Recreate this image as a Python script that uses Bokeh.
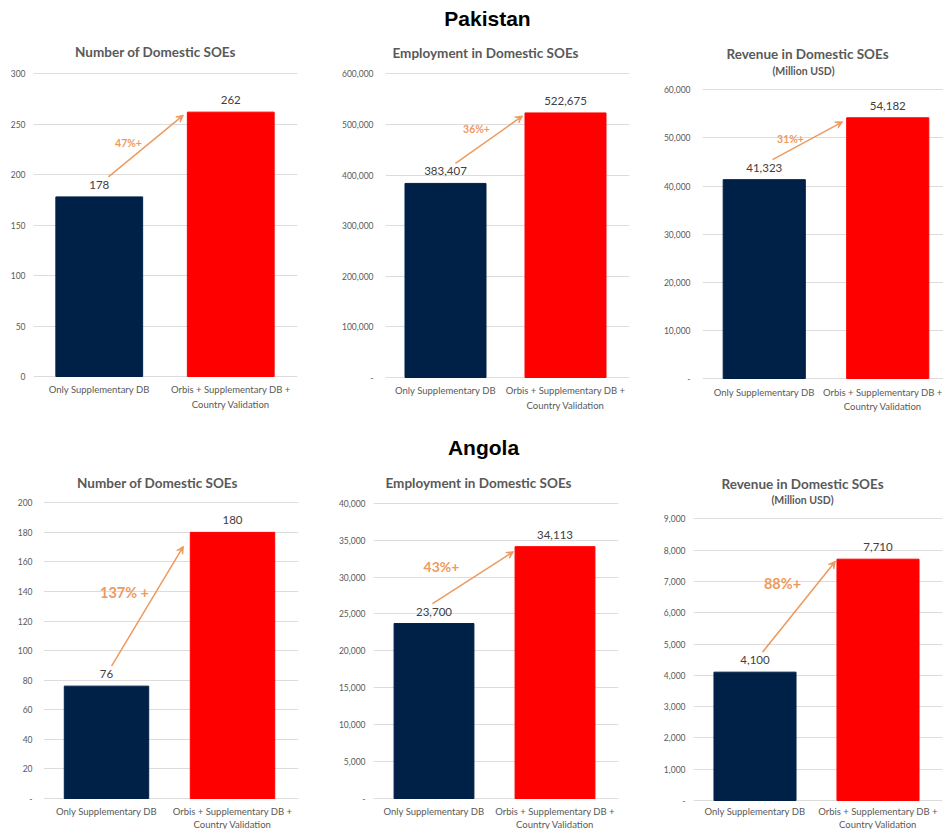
from bokeh.plotting import figure
from bokeh.layouts import column, row
from bokeh.models import Range1d, FixedTicker, NumeralTickFormatter, Arrow, VeeHead, ColumnDataSource
from bokeh.core.properties import value
from bokeh.embed import file_html
from bokeh.resources import INLINE

# ---- data -------------------------------------------------------------
categories = ["Only Supplementary DB", "Orbis + Supplementary DB +\nCountry Validation"]
countries = ["Pakistan", "Angola"]
chart_titles = ["Number of Domestic SOEs", "Employment in Domestic SOEs", "Revenue in Domestic SOEs"]
chart_subtitles = ["", "", "(Million USD)"]

pakistan_number = [178, 262]
pakistan_employment = [383407, 522675]
pakistan_revenue = [41323, 54182]
angola_number = [76, 180]
angola_employment = [23700, 34113]
angola_revenue = [4100, 7710]

pakistan_growth = ["47%+", "36%+", "31%+"]
angola_growth = ["137% +", "43%+", "88%+"]

pakistan_axis_max = [300, 600000, 60000]
pakistan_axis_step = [50, 100000, 10000]
angola_axis_max = [200, 40000, 9000]
angola_axis_step = [20, 5000, 1000]

# ---- styling ----------------------------------------------------------
NAVY = "#002147"
RED = "#FF0000"
ORANGE = "#EE9A5E"
GRID = "#DCDCDC"
TITLE_GREY = "#595959"
LABEL_GREY = "#404040"
FONT = "Lato"

# per-panel geometry in pixels, measured from each figure's top-left corner
panel_geo = [
    dict(w=310, h=420, fl=33, fr=297, base=376, top=73.3, cw=131.5, bw=0.66, ls=8,
         title_xy=(155, 51), sub_xy=None, country_xy=(0, 0), ax=(0.07, 0.64), drop=3,
         pct_xy=(128, 142), pct_size="10.5px", cat_off=7, cat_lh=1.4, cat_shift=0),
    dict(w=320, h=420, fl=75, fr=319, base=377, top=73.3, cw=120, bw=0.675, ls=12,
         title_xy=(175, 52), sub_xy=None, country_xy=(177, 18), ax=(0.083, 0.642), drop=3,
         pct_xy=(166, 128), pct_size="10.5px", cat_off=7, cat_lh=1.4, cat_shift=0),
    dict(w=313, h=420, fl=72, fr=313, base=378, top=89.3, cw=123.5, bw=0.665, ls=12,
         title_xy=(177, 53), sub_xy=(173, 70), country_xy=(0, 0), ax=(0.067, 0.634), drop=4,
         pct_xy=(160, 138), pct_size="10.5px", cat_off=8, cat_lh=1.3, cat_shift=-5),
    dict(w=315, h=409, fl=43, fr=298, base=378, top=82.3, cw=126, bw=0.67, ls=11,
         title_xy=(157, 62), sub_xy=None, country_xy=(0, 0), ax=(0.04, 0.61), drop=14,
         pct_xy=(124, 172), pct_size="14.5px", cat_off=7, cat_lh=1.25, cat_shift=0),
    dict(w=315, h=409, fl=58, fr=303, base=378, top=82.7, cw=121, bw=0.66, ls=8,
         title_xy=(163, 62), sub_xy=None, country_xy=(168, 27), ax=(-0.012, 0.657), drop=5,
         pct_xy=(126, 146), pct_size="14px", cat_off=7, cat_lh=1.25, cat_shift=0),
    dict(w=313, h=409, fl=63, fr=312, base=380, top=98.3, cw=123, bw=0.667, ls=8,
         title_xy=(172, 63), sub_xy=(172, 79), country_xy=(0, 0), ax=(0.061, 0.654), drop=2,
         pct_xy=(152, 163), pct_size="14.5px", cat_off=5, cat_lh=1.25, cat_shift=0),
]


def make_panel(vals, growth, ymax, ystep, geo, title, subtitle, country, zero_dash):
    w, h = geo["w"], geo["h"]
    fl, fr = geo["fl"], geo["fr"]
    base, top_px, cw = geo["base"], geo["top"], geo["cw"]
    upp = ymax / (base - top_px)          # data units per pixel
    y_end = base * upp
    y_start = -(h - base) * upp           # room below the baseline for category labels
    x_end = -0.5 + (fr - fl) / cw

    def px_x(px):
        return -0.5 + (px - fl) / cw

    def px_y(py):
        return (base - py) * upp

    p = figure(width=w, height=h, x_range=Range1d(-0.5, x_end), y_range=Range1d(y_start, y_end),
               output_backend="svg", toolbar_location=None,
               min_border_left=fl, min_border_right=w - fr,
               min_border_top=0, min_border_bottom=0)
    p.outline_line_color = None
    p.background_fill_color = "white"
    p.border_fill_color = "white"

    yt = FixedTicker(ticks=list(range(0, ymax + 1, ystep)))
    p.yaxis.ticker = yt
    p.yaxis.formatter = NumeralTickFormatter(format="0,0")
    if zero_dash:
        p.yaxis.major_label_overrides = {0: "-"}
    p.yaxis.axis_line_color = None
    p.yaxis.major_tick_line_color = None
    p.yaxis.minor_tick_line_color = None
    p.yaxis.major_tick_out = 0
    p.yaxis.major_tick_in = 0
    p.yaxis.minor_tick_out = 0
    p.yaxis.major_label_standoff = geo["ls"]
    p.yaxis.major_label_text_font = FONT
    p.yaxis.major_label_text_font_size = "8.5px"
    p.yaxis.major_label_text_color = TITLE_GREY

    p.xaxis.visible = False
    p.xgrid.visible = False
    p.ygrid.ticker = yt
    p.ygrid.grid_line_color = GRID
    p.ygrid.grid_line_width = 1

    src = ColumnDataSource(dict(x=[0, 1], top=vals, color=[NAVY, RED],
                                label=[f"{v:,}" for v in vals], cat=categories,
                                cat_dx=[0, geo["cat_shift"]]))
    p.vbar(x="x", bottom=0, top="top", width=geo["bw"], color="color", source=src)
    p.text(x="x", y="top", text="label", source=src, text_align="center",
           text_baseline="middle", y_offset=-12, text_font=value(FONT),
           text_font_size="11.5px", text_color=LABEL_GREY)

    # category names under the bars
    p.text(x="x", y=0, text="cat", source=src, text_align="center",
           text_baseline="top", x_offset="cat_dx", y_offset=geo["cat_off"],
           text_font=value(FONT), text_font_size="9.5px",
           text_line_height=geo["cat_lh"], text_color=TITLE_GREY)

    # growth arrow from the first bar to the second
    ax0, ax1 = geo["ax"]
    p.add_layout(Arrow(x_start=ax0, y_start=vals[0] + 20 * upp,
                       x_end=ax1, y_end=vals[1] - geo["drop"] * upp,
                       line_color=ORANGE, line_width=1.5,
                       end=VeeHead(size=7, line_color=ORANGE, fill_color=ORANGE, line_width=1)))
    gx, gy = geo["pct_xy"]
    p.text(x=[px_x(gx)], y=[px_y(gy)], text=[growth], text_align="center",
           text_baseline="middle", text_font=value(FONT), text_font_style="bold",
           text_font_size=geo["pct_size"], text_color=ORANGE)

    tx, ty = geo["title_xy"]
    p.text(x=[px_x(tx)], y=[px_y(ty)], text=[title], text_align="center",
           text_baseline="middle", text_font=value(FONT), text_font_style="bold",
           text_font_size="13.5px", text_color=TITLE_GREY)
    if subtitle and geo["sub_xy"]:
        sx, sy = geo["sub_xy"]
        p.text(x=[px_x(sx)], y=[px_y(sy)], text=[subtitle], text_align="center",
               text_baseline="middle", text_font=value(FONT), text_font_style="bold",
               text_font_size="10.5px", text_color=TITLE_GREY)
    if country:
        cx, cy = geo["country_xy"]
        p.text(x=[px_x(cx)], y=[px_y(cy)], text=[country], text_align="center",
               text_baseline="middle", text_font=value("Liberation Sans"),
               text_font_style="bold", text_font_size="21px", text_color="black")
    return p


pakistan_series = [pakistan_number, pakistan_employment, pakistan_revenue]
angola_series = [angola_number, angola_employment, angola_revenue]

panels = []
for r, (series, growth, maxes, steps, country) in enumerate([
        (pakistan_series, pakistan_growth, pakistan_axis_max, pakistan_axis_step, countries[0]),
        (angola_series, angola_growth, angola_axis_max, angola_axis_step, countries[1])]):
    for c in range(3):
        i = r * 3 + c
        panels.append(make_panel(series[c], growth[c], maxes[c], steps[c], panel_geo[i],
                                 chart_titles[c], chart_subtitles[c],
                                 country if c == 1 else None,
                                 zero_dash=not (r == 0 and c == 0)))

layout = column(row(*panels[:3]), row(*panels[3:]))
open("out.html", "w").write(file_html(layout, INLINE))
